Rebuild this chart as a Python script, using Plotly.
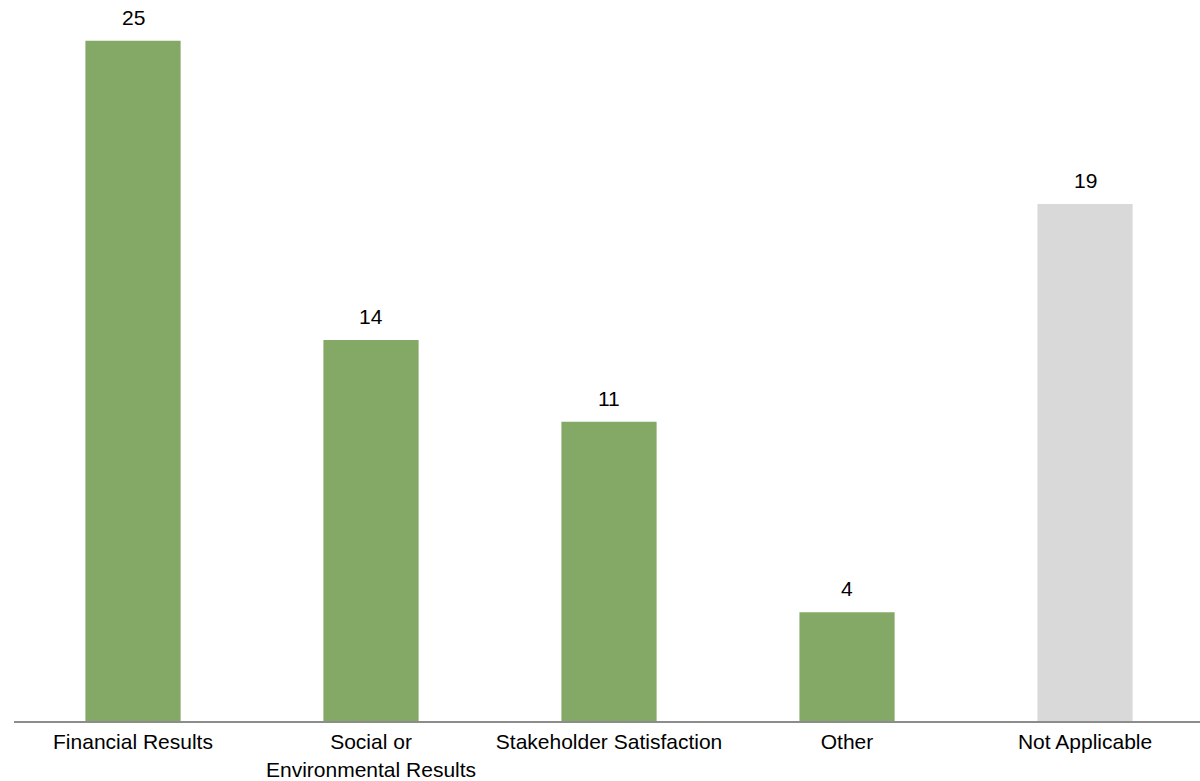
import plotly.graph_objects as go

categories = ["Financial Results", "Social or<br>Environmental Results",
              "Stakeholder Satisfaction", "Other", "Not Applicable"]
counts = [25, 14, 11, 4, 19]
bar_colors = ["#84A866", "#84A866", "#84A866", "#84A866", "#D9D9D9"]

font_family = "Liberation Sans, Arial, sans-serif"

fig = go.Figure()
fig.add_trace(go.Bar(
    x=list(range(len(categories))),
    y=counts,
    marker=dict(color=bar_colors, line=dict(width=0)),
    width=0.4,
    hoverinfo="skip",
))

# value labels above each bar
for i, v in enumerate(counts):
    fig.add_annotation(
        x=i, y=v, text=str(v), showarrow=False,
        yanchor="bottom", yshift=10,
        font=dict(family=font_family, size=21, color="#000000"),
    )

fig.update_layout(
    width=1200, height=781,
    margin=dict(l=14, r=0, t=0, b=60),
    paper_bgcolor="white", plot_bgcolor="white",
    showlegend=False,
    font=dict(family=font_family, size=21, color="#000000"),
    xaxis=dict(
        tickmode="array",
        tickvals=list(range(len(categories))),
        ticktext=categories,
        range=[-0.5, 4.483],
        showgrid=False, zeroline=False,
        showline=True, linecolor="#8C8C8C", linewidth=2,
        ticks="", ticklabelstandoff=1, automargin=False,
        tickfont=dict(size=21, color="#000000"),
    ),
    yaxis=dict(
        range=[0, 26.5],
        visible=False, showgrid=False, zeroline=False,
        automargin=False,
    ),
)

fig.write_html("out.html")
